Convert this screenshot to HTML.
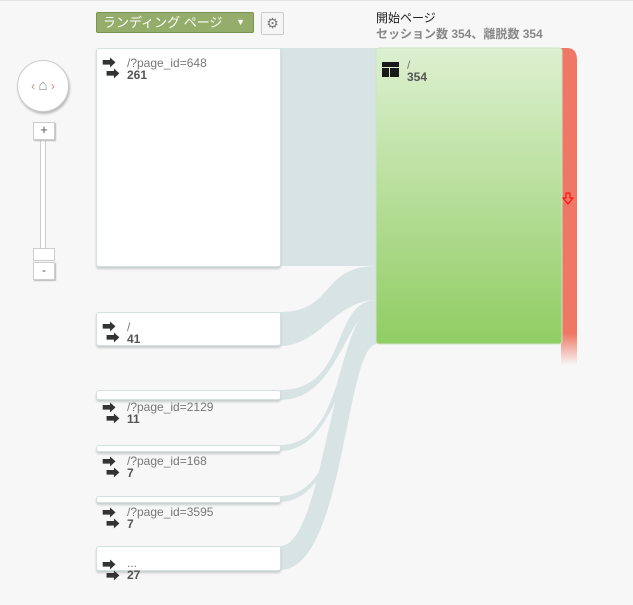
<!DOCTYPE html>
<html><head><meta charset="utf-8"><style>
body{margin:0;width:633px;height:605px;background:#f7f7f7;font-family:"Liberation Sans","Noto Sans CJK JP",sans-serif;position:relative;overflow:hidden}
.a{position:absolute}
.node{position:absolute;background:#fff;border:1px solid #d3e0e0;border-radius:3px;box-shadow:0 2px 2px #c8cccc;box-sizing:border-box}
.lbl{position:absolute;font-size:12px;color:#777;line-height:12px}
.lbl b{color:#555;display:block}
.arr{position:absolute;font-size:14px;color:#333;line-height:11px}
</style></head><body>
<div class="a" style="left:0;top:0;width:633px;height:1px;background:#e4e4e4"></div>
<svg class="a" style="left:0;top:0" width="633" height="605">
<defs><linearGradient id="g" x1="0" y1="0" x2="0" y2="1"><stop offset="0" stop-color="#ddf0d0"/><stop offset="1" stop-color="#90cd63"/></linearGradient>
<linearGradient id="r" x1="0" y1="0" x2="0" y2="1"><stop offset="0.9" stop-color="#ef7765"/><stop offset="1" stop-color="#ef7765" stop-opacity="0"/></linearGradient></defs>
<g fill="#d8e3e3">
<rect x="280" y="48" width="97" height="218"/>
<path d="M280 312 C335 312 320 266 377 266 L377 300 C335 300 320 346 280 346Z"/>
<path d="M280 390 C350 390 330 300 377 300 L377 309 C345 309 340 400 280 400Z"/>
<path d="M280 445 C350 445 335 309 377 309 L377 315 C350 315 345 451 280 451Z"/>
<path d="M280 496 C355 496 340 315 377 315 L377 321 C355 321 350 502 280 502Z"/>
<path d="M280 546 C325 546 330 321 377 321 L377 344 C345 344 345 570 280 570Z"/>
</g>
<path d="M561 48 L567 48 Q577 48 577 60 L577 365 L561 365Z" fill="url(#r)"/>
<rect x="376" y="48" width="186" height="296" rx="3" fill="url(#g)" stroke="#cfe3c4"/>
<path d="M566 193 h4 v5 h3 l-5 6 l-5-6 h3z" fill="none" stroke="#f00" stroke-width="1"/>
<rect x="382" y="62" width="17" height="5" fill="#1a1a1a"/><rect x="382" y="68" width="7" height="9" fill="#1a1a1a"/><rect x="390" y="68" width="9" height="9" fill="#1a1a1a"/>
</svg>
<div class="a" style="left:96px;top:12px;width:158px;height:21px;background:#95ad6b;border:1px solid #7b9352;border-radius:2px;box-sizing:border-box;color:#fff;font-size:13px;line-height:19px;padding-left:6px">ランディング ページ<span style="position:absolute;right:8px;top:0;font-size:9px">▼</span></div>
<div class="a" style="left:261px;top:12px;width:23px;height:23px;background:#f5f5f5;border:1px solid #ccc;border-radius:2px;box-sizing:border-box;color:#777;font-size:14px;text-align:center;line-height:21px">⚙</div>
<div class="a" style="left:17px;top:60px;width:50px;height:50px;border-radius:50%;background:#fff;border:1px solid #ccc;box-shadow:1px 2px 2px #bbb;text-align:center;line-height:50px;font-size:12px;color:#888"><span style="color:#c87">‹</span> <span style="font-size:15px">⌂</span> <span style="color:#c87">›</span></div>
<div class="a" style="left:40px;top:136px;width:6px;height:118px;background:#fff;border:1px solid #ccc;box-sizing:border-box"></div>
<div class="a" style="left:33px;top:122px;width:20px;height:16px;background:#fff;border:1px solid #ccc;box-shadow:1px 1px 1px #bbb;text-align:center;font-size:13px;line-height:14px;color:#555">+</div>
<div class="a" style="left:33px;top:248px;width:20px;height:11px;background:#fff;border:1px solid #ccc"></div>
<div class="a" style="left:33px;top:262px;width:20px;height:16px;background:#fff;border:1px solid #ccc;box-shadow:1px 1px 1px #bbb;text-align:center;font-size:12px;line-height:14px;color:#555">-</div>
<div class="a" style="left:376px;top:9px;font-size:12px;color:#222">開始ページ</div>
<div class="a" style="left:376px;top:25px;font-size:12px;color:#888;font-weight:bold">セッション数 354、離脱数 354</div>
<div class="lbl" style="left:407px;top:59px">/<b>354</b></div>
<div class="node" style="left:96px;top:48px;width:185px;height:219px"></div>
<div class="node" style="left:96px;top:312px;width:185px;height:34px"></div>
<div class="node" style="left:96px;top:390px;width:185px;height:10px"></div>
<div class="node" style="left:96px;top:445px;width:185px;height:7px"></div>
<div class="node" style="left:96px;top:496px;width:185px;height:7px"></div>
<div class="node" style="left:96px;top:546px;width:185px;height:25px"></div>
<div class="arr" style="left:102px;top:58px">➡<br>&nbsp;➡</div><div class="lbl" style="left:127px;top:57px">/?page_id=648<b>261</b></div>
<div class="arr" style="left:102px;top:322px">➡<br>&nbsp;➡</div><div class="lbl" style="left:127px;top:321px">/<b>41</b></div>
<div class="arr" style="left:102px;top:403px">➡<br>&nbsp;➡</div><div class="lbl" style="left:127px;top:401px">/?page_id=2129<b>11</b></div>
<div class="arr" style="left:102px;top:457px">➡<br>&nbsp;➡</div><div class="lbl" style="left:127px;top:455px">/?page_id=168<b>7</b></div>
<div class="arr" style="left:102px;top:508px">➡<br>&nbsp;➡</div><div class="lbl" style="left:127px;top:506px">/?page_id=3595<b>7</b></div>
<div class="arr" style="left:102px;top:560px">➡<br>&nbsp;➡</div><div class="lbl" style="left:127px;top:557px">...<b>27</b></div>
</body></html>
